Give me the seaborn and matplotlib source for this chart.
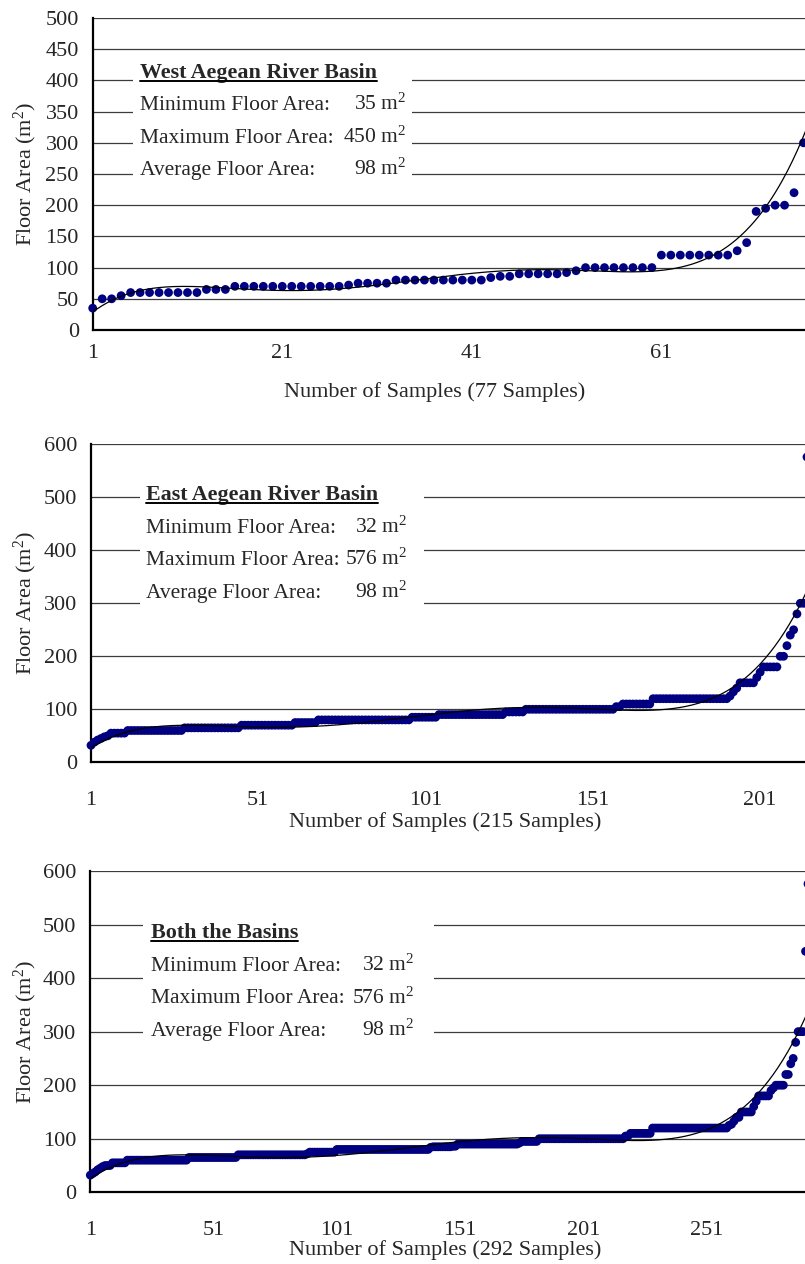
import numpy as np
import pandas as pd
import seaborn as sns
import matplotlib
matplotlib.use("Agg")
import matplotlib.pyplot as plt
from matplotlib.patches import Rectangle
from matplotlib.lines import Line2D

# ---------------- data ----------------
# sorted floor areas as value / repeat-count runs
west_values = [35, 50, 55, 60, 65, 70, 72, 75, 80, 84, 86, 90, 92, 95, 100,
               120, 127, 140, 190, 195, 200, 220, 300, 450]
west_counts = [1, 2, 1, 8, 3, 12, 1, 4, 10, 1, 2, 5, 1, 1, 8,
               8, 1, 1, 1, 1, 2, 1, 1, 1]

east_values = [32, 38, 42, 45, 48, 50, 55, 60, 65, 70, 75, 80, 85, 90, 95, 100,
               105, 110, 120, 125, 133, 140, 150, 160, 170, 180, 200, 220, 240,
               250, 280, 300, 576]
east_counts = [1, 1, 1, 1, 1, 1, 5, 17, 17, 16, 7, 28, 8, 20, 6, 27,
               2, 9, 23, 1, 1, 1, 5, 1, 1, 5, 2, 1, 1,
               1, 1, 2, 1]

titles = ["West Aegean River Basin", "East Aegean River Basin", "Both the Basins"]
min_area = ["35", "32", "32"]
max_area = ["450", "576", "576"]
avg_area = ["98", "98", "98"]
xlabels = ["Number of Samples (77 Samples)", "Number of Samples (215 Samples)",
           "Number of Samples (292 Samples)"]
xticks = [[1, 21, 41, 61], [1, 51, 101, 151, 201], [1, 51, 101, 151, 201, 251]]
ymaxes = [500, 600, 600]
ysteps = [50, 100, 100]
TREND_ORDER = 5

west = np.repeat(west_values, west_counts)
east = np.repeat(east_values, east_counts)
both = np.sort(np.concatenate([west, east]))
series = [west, east, both]

# ---------------- style ----------------
sns.set_style("white")
plt.rcParams["font.family"] = ["Liberation Serif", "DejaVu Serif"]
plt.rcParams["mathtext.fontset"] = "custom"
plt.rcParams["mathtext.rm"] = "Liberation Serif"
plt.rcParams["mathtext.it"] = "Liberation Serif:italic"
plt.rcParams["mathtext.bf"] = "Liberation Serif:bold"

W, H = 805, 1264
FS = 16        # axis text
SFS = 15.5     # stats text
TFS = 15.8     # stats title
fig = plt.figure(figsize=(W / 100, H / 100), dpi=100)
fig.patch.set_facecolor("white")

# panel geometry in pixels: left, top, right, bottom
geo = [(92.7, 18, 813, 330), (91, 444.3, 807, 762.3), (90.3, 871, 808, 1192.3)]
# stats box: x0, x1, y0, y1 ; text left x, value right x, baselines
boxes = [(133, 412, 58, 188), (140, 424, 470, 628), (143, 434, 900, 1058)]
text_left = [140, 145.7, 150.7]
value_right = [406, 407, 414]
baselines = [(78.3, 110, 142.7, 175), (500, 532.7, 565, 597.7),
             (938.3, 971, 1003.3, 1035.7)]
xtick_pad = [10, 21, 21]
xlabel_cy = [392, 822, 1250]
xlabel_cx = [435, 445, 445]

titles_artists = []
for i in range(3):
    l, t, r, b = geo[i]
    ax = fig.add_axes([l / W, 1 - b / H, (r - l) / W, (b - t) / H])

    def ax_x(px):
        return (px - l) / (r - l)

    def ax_y(py):
        return (b - py) / (b - t)

    vals = series[i]
    n = len(vals)
    df = pd.DataFrame({"sample": np.arange(1, n + 1), "area": vals})
    sns.scatterplot(data=df, x="sample", y="area", ax=ax, color="#000080",
                    s=40, edgecolor="none", linewidth=0, clip_on=False,
                    zorder=3, legend=False)
    poly = np.polynomial.Polynomial.fit(df["sample"], df["area"], TREND_ORDER)
    xs = np.linspace(1, n, 600)
    sns.lineplot(x=xs, y=poly(xs), ax=ax, color="black", linewidth=0.9,
                 zorder=4, legend=False)

    ax.set_xlim(1, n)
    ax.set_ylim(0, ymaxes[i])
    ax.set_yticks(np.arange(0, ymaxes[i] + 1, ysteps[i]))
    ax.set_xticks(xticks[i])
    ax.set_xticklabels([str(v) for v in xticks[i]])
    ax.yaxis.grid(True, color="#3c3c3c", linewidth=0.9, zorder=0)
    ax.xaxis.grid(False)
    ax.set_axisbelow(True)
    for s in ["top", "right"]:
        ax.spines[s].set_visible(False)
    for s in ["left", "bottom"]:
        ax.spines[s].set_color("black")
        ax.spines[s].set_linewidth(1.6)
    ax.tick_params(axis="x", direction="in", length=5, width=1, color="black",
                   labelsize=FS, pad=xtick_pad[i])
    ax.tick_params(axis="y", length=0, labelsize=FS, pad=10)

    ax.set_xlabel(xlabels[i], fontsize=FS)
    ax.xaxis.set_label_coords(ax_x(xlabel_cx[i]), ax_y(xlabel_cy[i]))
    ax.xaxis.label.set_va("center")
    ax.set_ylabel(r"Floor Area (m$^2$)", fontsize=FS)
    ax.yaxis.set_label_coords(ax_x(25), 0.5)
    ax.yaxis.label.set_va("center")

    bx0, bx1, by0, by1 = boxes[i]
    ax.add_patch(Rectangle((ax_x(bx0), ax_y(by1)), ax_x(bx1) - ax_x(bx0),
                           ax_y(by0) - ax_y(by1), transform=ax.transAxes,
                           facecolor="white", edgecolor="none", zorder=2))
    bl = baselines[i]
    tt = ax.text(ax_x(text_left[i]), ax_y(bl[0]), titles[i], transform=ax.transAxes,
                 fontsize=TFS, fontweight="bold", va="baseline", ha="left", zorder=5)
    titles_artists.append(tt)
    labels = ["Minimum Floor Area:", "Maximum Floor Area:", "Average Floor Area:"]
    values = [min_area[i], max_area[i], avg_area[i]]
    for k in range(3):
        ax.text(ax_x(text_left[i]), ax_y(bl[k + 1]), labels[k], transform=ax.transAxes,
                fontsize=SFS, va="baseline", ha="left", zorder=5)
        ax.text(ax_x(value_right[i]), ax_y(bl[k + 1]), values[k] + r" m$^2$",
                transform=ax.transAxes, fontsize=SFS, va="baseline", ha="right", zorder=5)

# underline the bold titles
fig.canvas.draw()
renderer = fig.canvas.get_renderer()
for tt in titles_artists:
    bb = tt.get_window_extent(renderer)
    yline = bb.y0 + 2.2
    fig.add_artist(Line2D([bb.x0 / W, bb.x1 / W], [yline / H, yline / H],
                          color="black", linewidth=1.4, transform=fig.transFigure))

fig.savefig("out.png", dpi=100, facecolor="white")
